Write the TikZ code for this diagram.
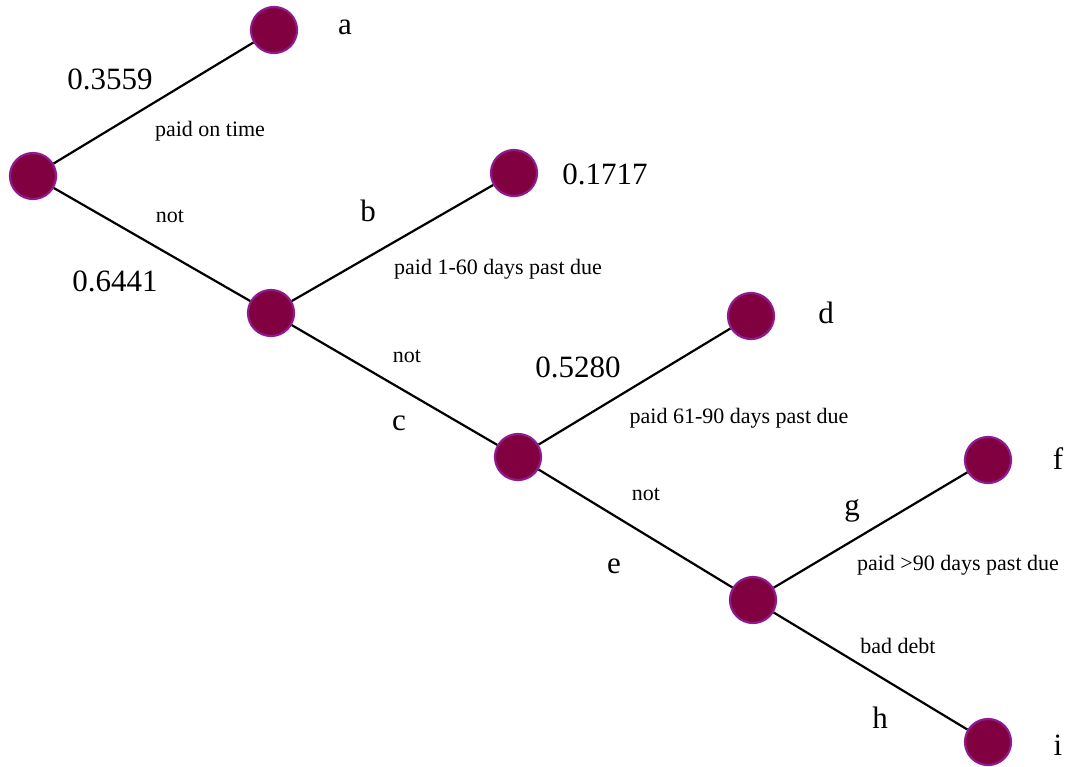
\documentclass[tikz,border=0pt]{standalone}
\usepackage{fontspec}
\setmainfont{Liberation Serif}
\definecolor{nodefill}{HTML}{800040}
\definecolor{noderim}{HTML}{8E1A8E}
\begin{document}
\begin{tikzpicture}[x=1pt,y=-1pt,
  state/.style={circle,fill=nodefill,draw=noderim,line width=2.2pt,minimum size=46pt,inner sep=0pt},
  branch/.style={line width=2.2pt,black},
  big/.style={font=\fontsize{31}{32}\selectfont,inner sep=0pt},
  small/.style={font=\fontsize{22}{24}\selectfont,inner sep=0pt}]
\useasboundingbox (0,0) rectangle (1070,766);
% tree nodes
\node[state] (r)  at (33,176)  {};
\node[state] (na) at (274,30)  {};
\node[state] (m1) at (271,313) {};
\node[state] (nb) at (514,173) {};
\node[state] (m2) at (518,457) {};
\node[state] (nd) at (751,316) {};
\node[state] (m3) at (753,600) {};
\node[state] (nf) at (988,460) {};
\node[state] (ni) at (988,742) {};
% branches
\draw[branch] (r) -- (na);
\draw[branch] (r) -- (m1);
\draw[branch] (m1) -- (nb);
\draw[branch] (m1) -- (m2);
\draw[branch] (m2) -- (nd);
\draw[branch] (m2) -- (m3);
\draw[branch] (m3) -- (nf);
\draw[branch] (m3) -- (ni);
% large labels
\node[big] (la) at (345,27) {a};
\node[big] (p1) at (110,79) {0.3559};
\node[big] (p2) at (115,281) {0.6441};
\node[big] (lb) at (368,211) {b};
\node[big] (p3) at (605,174) {0.1717};
\node[big] (ld) at (826,313) {d};
\node[big] (p4) at (578,367) {0.5280};
\node[big] (lc) at (399,423) {c};
\node[big] (lg) at (852,511) {g};
\node[big] (lf) at (1058,459) {f};
\node[big] (le) at (614,566) {e};
\node[big] (lh) at (880,718) {h};
\node[big] (li) at (1058,745) {i};
% branch descriptions
\node[small] (t1) at (210,131) {paid on time};
\node[small] (t2) at (170,216) {not};
\node[small] (t3) at (498,269) {paid 1-60 days past due};
\node[small] (t4) at (407,356) {not};
\node[small] (t5) at (739,418) {paid 61-90 days past due};
\node[small] (t6) at (646,494) {not};
\node[small] (t7) at (958,565) {paid >90 days past due};
\node[small] (t8) at (898,646) {bad debt};
\end{tikzpicture}
\end{document}
